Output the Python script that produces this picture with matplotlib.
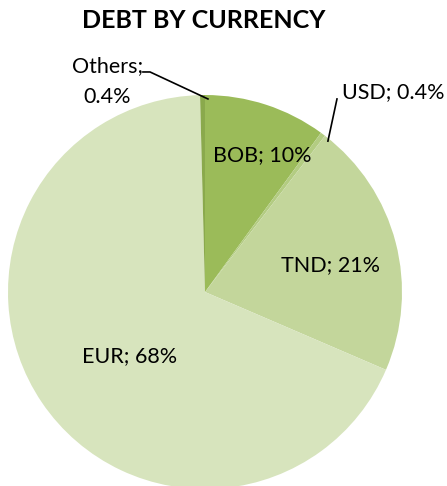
import matplotlib.pyplot as plt

currencies = ["BOB", "USD", "TND", "EUR", "Others"]
shares = [10, 0.4, 21, 68, 0.4]
labels = ["BOB; 10%", "USD; 0.4%", "TND; 21%", "EUR; 68%", "Others;\n0.4%"]
colors = ["#9BBB59", "#B3CC82", "#C3D69B", "#D7E4BD", "#8AA94C"]

plt.rcParams['font.family'] = ['Lato', 'DejaVu Sans']

fig = plt.figure(figsize=(4.47, 4.86), dpi=100)
ax = fig.add_axes([0.0179, -0.0062, 0.8814, 0.8107])
ax.pie(shares, colors=colors, startangle=90, counterclock=False,
       wedgeprops=dict(linewidth=0))
ax.set_xlim(-1, 1)
ax.set_ylim(-1, 1)
ax.set_aspect('equal')

fs = 15.5
# labels inside slices
ax.text(0.289, 0.695, labels[0], ha='center', va='center', fontsize=fs)
ax.text(0.635, 0.137, labels[2], ha='center', va='center', fontsize=fs)
ax.text(-0.381, -0.325, labels[3], ha='center', va='center', fontsize=fs)

# small slices with leader lines
ax.text(0.695, 1.015, labels[1], ha='left', va='center', fontsize=fs)
ax.plot([0.67, 0.624], [0.98, 0.766], color='black', lw=1.2, clip_on=False)

ax.text(-0.495, 1.07, labels[4], ha='center', va='center', fontsize=fs,
        multialignment='center', linespacing=1.7)
ax.plot([-0.315, -0.279, 0.015], [1.117, 1.117, 0.98], color='black',
        lw=1.2, clip_on=False)

fig.text(0.455, 0.957, "DEBT BY CURRENCY", ha='center', va='center',
         fontsize=18, fontweight='bold')

fig.savefig("out.png", dpi=100)
